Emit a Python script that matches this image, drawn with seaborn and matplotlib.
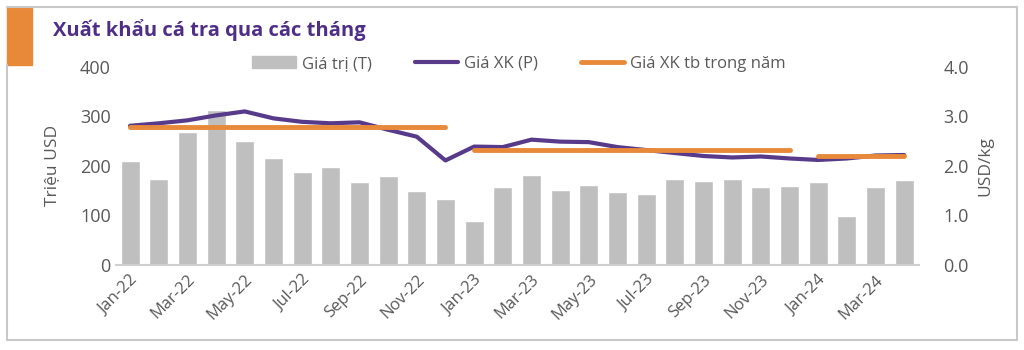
import numpy as np
import pandas as pd
import seaborn as sns
import matplotlib.pyplot as plt
from matplotlib.patches import Patch, Rectangle
from matplotlib.lines import Line2D

months = ['Jan-22', 'Feb-22', 'Mar-22', 'Apr-22', 'May-22', 'Jun-22', 'Jul-22', 'Aug-22',
          'Sep-22', 'Oct-22', 'Nov-22', 'Dec-22', 'Jan-23', 'Feb-23', 'Mar-23', 'Apr-23',
          'May-23', 'Jun-23', 'Jul-23', 'Aug-23', 'Sep-23', 'Oct-23', 'Nov-23', 'Dec-23',
          'Jan-24', 'Feb-24', 'Mar-24', 'Apr-24']
# export value, million USD (left axis)
value = [209, 173, 269, 313, 250, 215, 188, 197, 167, 180, 149, 134,
         89, 158, 182, 151, 162, 147, 144, 173, 170, 173, 157, 160,
         167, 99, 158, 171]
# export price, USD/kg (right axis)
price = [2.81, 2.86, 2.92, 3.02, 3.10, 2.96, 2.89, 2.86, 2.88, 2.73, 2.59, 2.11,
         2.39, 2.38, 2.53, 2.49, 2.48, 2.38, 2.32, 2.26, 2.20, 2.17, 2.19, 2.15,
         2.12, 2.15, 2.21, 2.22]
years = ['2022', '2023', '2024']
year_avg = [2.78, 2.32, 2.19]

GRAY = '#bfbfbf'
PURPLE = '#583a8b'
ORANGE = '#e8893a'
TXT = '#595959'

sns.set_style('white')
plt.rcParams['font.family'] = ['Open Sans', 'DejaVu Sans']

df = pd.DataFrame({'month': months, 'value': value, 'price': price})
df['idx'] = np.arange(len(df))
df['year'] = '20' + df['month'].str[-2:]
df['avg'] = df['year'].map(dict(zip(years, year_avg)))

fig = plt.figure(figsize=(10.24, 3.5), dpi=100)
ax = fig.add_axes([0.113, 0.243, 0.784, 0.566])

sns.barplot(data=df, x='idx', y='value', color=GRAY, width=0.66, ax=ax, saturation=1)
ax.set_ylim(0, 400)
ax.set_yticks([0, 100, 200, 300, 400])
ax.set_xlim(-0.5, len(df) - 0.5)
ax.set_xticks(df['idx'][::2])
ax.set_xticklabels(df['month'][::2], rotation=45, ha='right', rotation_mode='anchor')
ax.set_xlabel('')
ax.set_ylabel('Triệu USD', fontsize=12.5, color=TXT, labelpad=14)
ax.tick_params(axis='both', colors=TXT, labelsize=13, length=0)
ax.tick_params(axis='x', labelsize=12, pad=5)
for s in ['top', 'left', 'right']:
    ax.spines[s].set_visible(False)
ax.spines['bottom'].set_color('#d0d0d0')
ax.spines['bottom'].set_linewidth(1.5)

ax2 = ax.twinx()
sns.lineplot(data=df, x='idx', y='price', color=PURPLE, linewidth=3, ax=ax2, legend=False)
for yr in years:
    sub = df[df['year'] == yr]
    sns.lineplot(data=sub, x='idx', y='avg', color=ORANGE, linewidth=3.5, ax=ax2,
                 legend=False, solid_capstyle='round')
ax2.set_ylim(0, 4)
ax2.set_yticks([0, 1, 2, 3, 4])
ax2.set_yticklabels(['0.0', '1.0', '2.0', '3.0', '4.0'])
ax2.set_ylabel('USD/kg', fontsize=12.5, color=TXT, labelpad=6)
ax2.tick_params(axis='y', colors=TXT, labelsize=13, length=0, pad=18)
ax2.set_xlim(-0.5, len(df) - 0.5)
for s in ['top', 'left', 'right', 'bottom']:
    ax2.spines[s].set_visible(False)

handles = [Patch(color=GRAY), Line2D([], [], color=PURPLE, lw=3),
           Line2D([], [], color=ORANGE, lw=3.5)]
fig.legend(handles, ['Giá trị (T)', 'Giá XK (P)', 'Giá XK tb trong năm'],
           loc='center', bbox_to_anchor=(0.507, 1 - 64 / 350), ncol=3, frameon=False,
           fontsize=12, labelcolor=TXT, handlelength=2.6, handletextpad=0.35,
           columnspacing=2.6)

# frame and title block
frame = dict(color='#c8c8c8', lw=1.5, transform=fig.transFigure)
fig.add_artist(Line2D([7 / 1024, 1017 / 1024], [1 - 7 / 350, 1 - 7 / 350], **frame))
fig.add_artist(Line2D([7 / 1024, 7 / 1024], [1 - 65 / 350, 1 - 340 / 350], **frame))
fig.add_artist(Line2D([7 / 1024, 1017 / 1024], [1 - 340 / 350, 1 - 340 / 350], **frame))
fig.add_artist(Line2D([1017 / 1024, 1017 / 1024], [1 - 7 / 350, 1 - 340 / 350], **frame))
fig.add_artist(Rectangle((7 / 1024, 1 - 65 / 350), 25 / 1024, 57 / 350,
                         color=ORANGE, transform=fig.transFigure))
fig.text(53 / 1024, 1 - 30 / 350, 'Xuất khẩu cá tra qua các tháng', fontsize=14.5,
         fontweight='bold', color='#4f2f86', va='center', ha='left')

fig.savefig('out.png', dpi=100)
